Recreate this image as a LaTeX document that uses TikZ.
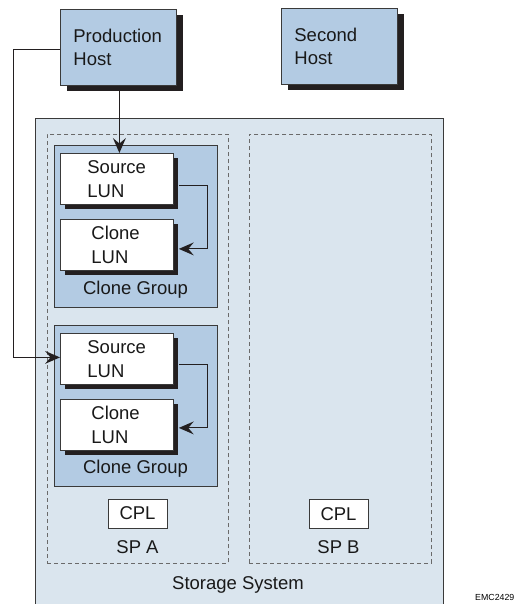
\documentclass[tikz,border=0pt]{standalone}
\usepackage{fontspec}
\setmainfont{Liberation Sans}
\usetikzlibrary{shadows,calc}

\definecolor{hostblue}{HTML}{B3CBE3}
\definecolor{storebg}{HTML}{DAE5EE}
\definecolor{edge}{HTML}{3A3A3A}
\definecolor{inkdark}{HTML}{231F20}
\definecolor{dashgray}{HTML}{6A6A6A}

\newcommand{\padl}[1]{\hspace*{#1}}

\tikzset{
  lbl/.style={font=\fontsize{18.5}{23.5}\selectfont, text=black!90},
  hostbox/.style={draw=edge, line width=0.8pt, fill=hostblue, anchor=north west,
    minimum width=116pt, minimum height=76pt, inner xsep=13pt, inner ysep=0pt,
    text width=90pt, align=left, lbl,
    general shadow={fill=inkdark, shadow xshift=7pt, shadow yshift=-6pt}},
  lunbox/.style={draw=edge, line width=0.8pt, fill=white, anchor=north west,
    minimum width=113pt, minimum height=51pt, inner xsep=0pt, inner ysep=0pt,
    text width=113pt, align=left, lbl,
    general shadow={fill=inkdark, shadow xshift=5pt, shadow yshift=-5pt}},
  groupbox/.style={draw=edge, line width=0.8pt, fill=hostblue, anchor=north west,
    minimum width=163pt},
  spbox/.style={draw=dashgray, line width=0.9pt, dash pattern=on 4pt off 3pt,
    anchor=north west, minimum width=181pt, minimum height=429pt},
  cplbox/.style={draw=edge, line width=0.8pt, fill=white, minimum width=59pt,
    minimum height=29pt, inner sep=0pt, lbl},
  link/.style={draw=inkdark, line width=1pt, shorten >=9pt},
  % notched arrowhead, tip at the origin, pointing along +x
  ahead/.pic={\fill[inkdark] (0,0) -- (-15,-6.5) -- (-9.5,0) -- (-15,6.5) -- cycle;},
}

\begin{document}
\begin{tikzpicture}[x=1pt, y=-1pt]
  \useasboundingbox (0,0) rectangle (516,604);

  % storage system enclosure
  \node[draw=edge, line width=0.9pt, fill=storebg, anchor=north west,
        minimum width=408pt, minimum height=486pt, inner sep=0pt] (store) at (35,118) {};
  \node[lbl] (storelbl) at (238,585) {Storage System};

  % storage processors
  \node[spbox] (spa) at (47,134) {};
  \node[spbox, minimum width=182pt] (spb) at (249,134) {};

  % clone groups
  \node[groupbox, minimum height=162pt] (cg1) at (54,145) {};
  \node[groupbox, minimum height=161pt] (cg2) at (54,325) {};
  \node[lbl] (cg1lbl) at (135.5,290) {Clone Group};
  \node[lbl] (cg2lbl) at (135.5,469) {Clone Group};

  % LUNs
  \node[lunbox] (src1) at (60,153) {\padl{27pt}Source\\\padl{27pt}LUN};
  \node[lunbox] (cln1) at (60,219) {\padl{31pt}Clone\\\padl{31pt}LUN};
  \node[lunbox] (src2) at (60,333) {\padl{27pt}Source\\\padl{27pt}LUN};
  \node[lunbox] (cln2) at (60,399) {\padl{31pt}Clone\\\padl{31pt}LUN};

  % CPL boxes and SP labels
  \node[cplbox] (cpla) at (137.5,513.5) {CPL};
  \node[cplbox] (cplb) at (338.5,514) {CPL};
  \node[lbl] (spalbl) at (137.5,547) {SP A};
  \node[lbl] (spblbl) at (338.5,547) {SP B};

  % hosts
  \node[hostbox] (ph) at (60,9) {Production\\Host};
  \node[hostbox] (sh) at (281,8) {Second\\Host};

  % arrow end points
  \coordinate (leftx) at (13,0);
  \coordinate (t1) at ([xshift=1pt]ph.south |- src1.north);
  \coordinate (t2) at ([yshift=1.5pt]src2.west);
  \coordinate (t3) at ($(cln1.east)+(5,4)$);
  \coordinate (t4) at ($(cln2.east)+(5,3)$);

  % host connections
  \draw[link] ([xshift=1pt]ph.south) -- (t1);
  \draw[link] ([yshift=-2pt]ph.west) -- ([yshift=-2pt]ph.west -| leftx) |- (t2);

  % source to clone synchronisation
  \draw[link] ($(src1.east)+(5,7)$) -- ($(src1.east)+(34,7)$) |- (t3);
  \draw[link] ($(src2.east)+(5,6)$) -- ($(src2.east)+(34,6)$) |- (t4);

  % arrowheads
  \pic[rotate=-90] at (t1) {ahead};
  \pic at (t2) {ahead};
  \pic[rotate=180] at (t3) {ahead};
  \pic[rotate=180] at (t4) {ahead};

  % figure id
  \node[font=\fontsize{8.8}{10}\selectfont, anchor=west, inner sep=0pt] (figid) at (475,597) {EMC2429};
\end{tikzpicture}
\end{document}
